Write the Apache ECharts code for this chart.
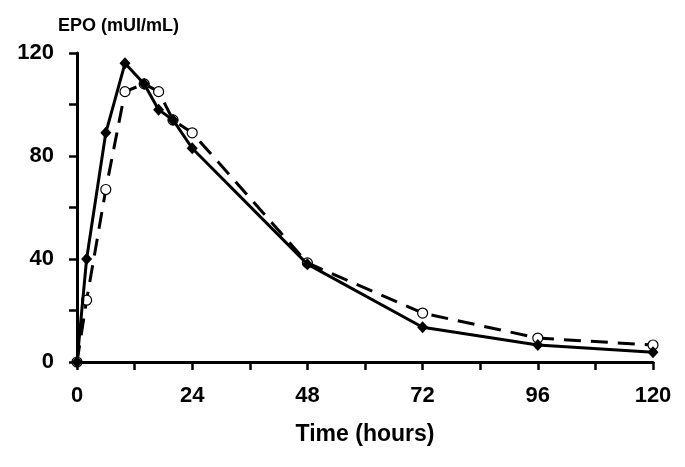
<!DOCTYPE html>
<html>
<head>
<meta charset="utf-8">
<script src="https://cdn.jsdelivr.net/npm/echarts@6/dist/echarts.min.js"></script>
<style>
html,body{margin:0;padding:0;background:#fff;}
#chart{width:685px;height:467px;}
</style>
</head>
<body>
<div id="chart"></div>
<script>
var timesSolid = [0, 2, 6, 10, 14, 17, 20, 24, 48, 72, 96, 120];
var epoSolid   = [0, 40, 89, 116, 108, 98, 94, 83, 38, 13.5, 6.6, 3.8];
var timesDashed = [0, 2, 6, 10, 14, 17, 20, 24, 48, 72, 96, 120];
var epoDashed   = [0, 24, 67, 105, 108, 105, 94, 89, 38.5, 19, 9.3, 6.6];
var xTickLabels = [0, 24, 48, 72, 96, 120];
var yTickLabels = [0, 40, 80, 120];

function pairs(xs, ys){ return xs.map(function(x,i){ return [x, ys[i]]; }); }

var font = '"Liberation Sans", Arial, Helvetica, sans-serif';
var chart = echarts.init(document.getElementById('chart'), null, {renderer:'canvas'});
chart.setOption({
  animation: false,
  backgroundColor: '#fff',
  title: {
    text: 'EPO (mUI/mL)',
    left: 53, top: 12,
    textStyle: {fontFamily: font, fontWeight: 'bold', fontSize: 18, color: '#000'}
  },
  grid: {left: 77, right: 32, top: 53, bottom: 105},
  xAxis: {
    type: 'value', min: 0, max: 120, interval: 12,
    axisLine: {onZero: false, lineStyle: {color: '#000', width: 3}},
    axisTick: {show: true, inside: false, length: 8, lineStyle: {color: '#000', width: 2.5}},
    splitLine: {show: false},
    axisLabel: {
      margin: 23, color: '#000', fontFamily: font, fontWeight: 'bold', fontSize: 22,
      formatter: function(v){ return xTickLabels.indexOf(v) >= 0 ? String(v) : ''; }
    },
    name: 'Time (hours)', nameLocation: 'middle', nameGap: 61,
    nameTextStyle: {color: '#000', fontFamily: font, fontWeight: 'bold', fontSize: 23}
  },
  yAxis: {
    type: 'value', min: 0, max: 120, interval: 20,
    axisLine: {show: true, onZero: false, lineStyle: {color: '#000', width: 3}},
    axisTick: {show: true, inside: false, length: 8, lineStyle: {color: '#000', width: 2.5}},
    splitLine: {show: false},
    axisLabel: {
      margin: 23, color: '#000', fontFamily: font, fontWeight: 'bold', fontSize: 22,
      formatter: function(v){ return yTickLabels.indexOf(v) >= 0 ? String(v) : ''; }
    }
  },
  series: [
    {
      type: 'line', data: pairs(timesDashed, epoDashed), z: 2,
      symbol: 'circle', symbolSize: 10, showAllSymbol: true,
      lineStyle: {color: '#000', width: 3, type: [17, 10]},
      itemStyle: {color: '#fff', borderColor: '#000', borderWidth: 1.2}
    },
    {
      type: 'line', data: pairs(timesSolid, epoSolid), z: 3,
      symbol: 'diamond', symbolSize: [11, 12], showAllSymbol: true,
      lineStyle: {color: '#000', width: 3},
      itemStyle: {color: '#000', borderColor: '#000', borderWidth: 0}
    }
  ]
});
</script>
</body>
</html>
